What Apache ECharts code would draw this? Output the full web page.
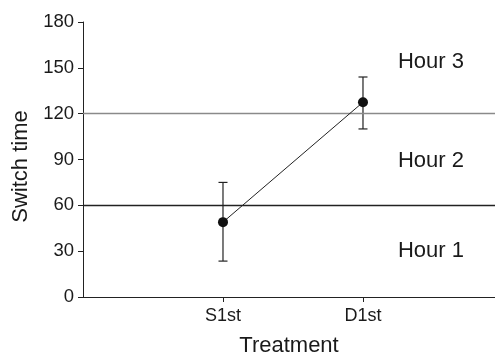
<!DOCTYPE html>
<html>
<head>
<meta charset="utf-8">
<script src="https://cdn.jsdelivr.net/npm/echarts@6/dist/echarts.min.js"></script>
<style>html,body{margin:0;padding:0;background:#fff}#c{width:495px;height:362px}</style>
</head>
<body>
<div id="c"></div>
<script>
var categories = ['S1st', 'D1st'];
var categoryPos = [1, 2];
var means = [49, 127.5];
var upper = [75, 144];
var lower = [23.5, 110];
var thresholds = [60, 120];
var thresholdColors = ['#222222', '#8a8a8a'];
var zoneLabels = ['Hour 1', 'Hour 2', 'Hour 3'];
var zoneLabelY = [30, 89, 154];
var zoneLabelX = 2.25;
var yTicks = [0, 30, 60, 90, 120, 150, 180];

var FONT = 'Liberation Sans, Arial, Helvetica, sans-serif';
var TXT = '#1a1a1a';

var chart = echarts.init(document.getElementById('c'), null, {renderer: 'canvas'});

var meanData = categoryPos.map(function (x, i) { return [x, means[i]]; });
var errData = categoryPos.map(function (x, i) { return [x, lower[i], upper[i]]; });
var zoneData = zoneLabels.map(function (t, i) { return {value: [zoneLabelX, zoneLabelY[i]], name: t}; });

var option = {
  animation: false,
  backgroundColor: '#fff',
  grid: {left: 83, right: 0, top: 22, bottom: 61, containLabel: false},
  xAxis: {
    type: 'value',
    min: 0,
    max: 2.943,
    interval: 1,
    name: 'Treatment',
    nameLocation: 'middle',
    nameGap: 38,
    nameTextStyle: {fontFamily: FONT, fontSize: 22, color: TXT},
    axisLine: {lineStyle: {color: '#222', width: 1}},
    axisTick: {show: true, length: 5, lineStyle: {color: '#222'}},
    axisLabel: {
      fontFamily: FONT, fontSize: 18, color: TXT, margin: 10,
      showMinLabel: false, showMaxLabel: false,
      formatter: function (v) {
        var idx = categoryPos.indexOf(v);
        return idx >= 0 ? categories[idx] : '';
      }
    },
    splitLine: {show: false}
  },
  yAxis: {
    type: 'value',
    min: yTicks[0],
    max: yTicks[yTicks.length - 1],
    interval: 30,
    name: 'Switch time',
    nameLocation: 'middle',
    nameGap: 46,
    nameTextStyle: {fontFamily: FONT, fontSize: 22, color: TXT, padding: [0, 14, 0, 0]},
    axisLine: {show: true, lineStyle: {color: '#222', width: 1}},
    axisTick: {show: true, length: 5, lineStyle: {color: '#222'}},
    axisLabel: {fontFamily: FONT, fontSize: 18.5, color: TXT, margin: 9},
    splitLine: {show: false}
  },
  series: [
    {
      type: 'line',
      data: meanData,
      symbol: 'circle',
      symbolSize: 10,
      itemStyle: {color: '#111'},
      lineStyle: {color: '#222', width: 1},
      z: 5,
      markLine: {
        silent: true,
        symbol: 'none',
        label: {show: false},
        data: thresholds.map(function (t, i) {
          return {yAxis: t, lineStyle: {color: thresholdColors[i], width: 1.3, type: 'solid'}};
        })
      }
    },
    {
      type: 'custom',
      data: errData,
      z: 4,
      renderItem: function (params, api) {
        var x = api.value(0);
        var lo = api.coord([x, api.value(1)]);
        var hi = api.coord([x, api.value(2)]);
        var w = 4.5;
        var st = {stroke: '#222', lineWidth: 1.2};
        return {
          type: 'group',
          children: [
            {type: 'line', shape: {x1: lo[0], y1: lo[1], x2: hi[0], y2: hi[1]}, style: st},
            {type: 'line', shape: {x1: lo[0] - w, y1: lo[1], x2: lo[0] + w, y2: lo[1]}, style: st},
            {type: 'line', shape: {x1: hi[0] - w, y1: hi[1], x2: hi[0] + w, y2: hi[1]}, style: st}
          ]
        };
      }
    },
    {
      type: 'scatter',
      data: zoneData,
      symbolSize: 0,
      silent: true,
      itemStyle: {opacity: 1},
      label: {
        show: true,
        position: 'inside',
        align: 'left',
        verticalAlign: 'middle',
        formatter: function (p) { return p.name; },
        fontFamily: FONT,
        fontSize: 22,
        color: TXT,
        opacity: 1
      }
    }
  ]
};
chart.setOption(option);
</script>
</body>
</html>
